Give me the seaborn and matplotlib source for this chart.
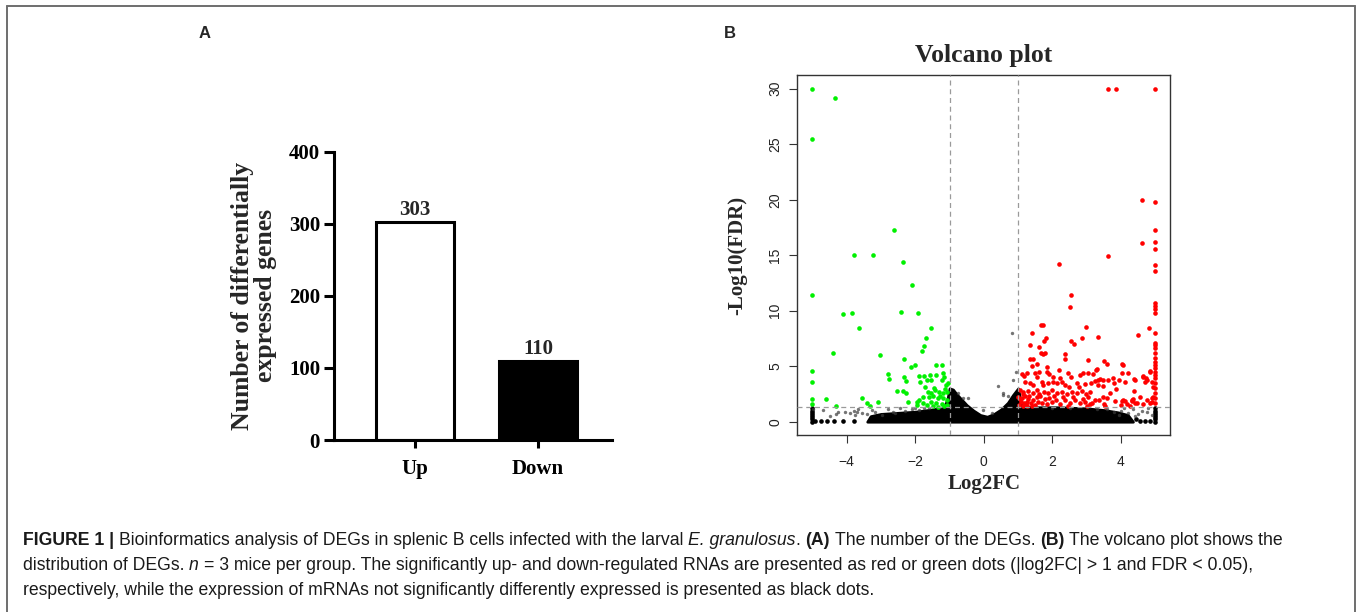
import matplotlib
matplotlib.use("Agg")
import matplotlib.pyplot as plt
import seaborn as sns
from matplotlib.lines import Line2D

SERIF = "Liberation Serif"
SANS = "Liberation Sans"
CAPTION_COLOR = "#1a1a1a"
FRAME_GREY = "#6e6e6e"

# ---- panel A data ----
categories = ["Up", "Down"]
deg_counts = [303, 110]
bar_colors = ["white", "black"]
count_ticks = [0, 100, 200, 300, 400]

# ---- panel B data ----
green_x = [-5, -4.34, -5, -5, -5, -5, -5, -5, -4.6, -4.31, -4.41, -4.12, -3.85, -3.79, -3.63,
           -3.56, -3.41, -3.32, -3.23, -3.08, -3.02, -2.62, -2.41, -2.36, -2.09, -1.91, -1.55,
           -1.68, -1.73, -1.79, -2.34, -2.12, -2.0, -1.40, -1.21, -2.78, -2.76, -2.34, -2.27,
           -1.89, -1.74, -1.57, -1.40, -1.19, -1.15, -1.05, -1.85, -1.66, -1.54, -1.23, -1.10,
           -2.54, -2.36, -2.27, -1.71, -1.64, -1.54, -1.42, -1.31, -1.20, -1.08, -1.60, -1.47,
           -1.33, -1.18, -1.08, -2.20, -1.96, -1.78, -1.88, -1.76, -1.55, -1.39, -1.23, -1.08,
           -1.96, -1.66, -1.49, -1.33, -1.15, -1.27, -1.45, -1.12]
green_y = [30, 29.2, 25.5, 11.4, 4.56, 3.57, 2.0, 1.57, 2.0, 1.44, 6.15, 9.7, 9.8, 15.0, 8.4,
           2.1, 1.65, 1.44, 15.0, 1.8, 6.0, 17.3, 9.9, 14.4, 12.3, 9.8, 8.4,
           7.5, 6.85, 6.37, 5.62, 4.9, 5.08, 5.14, 5.08, 4.3, 3.82, 4.05, 3.7,
           4.14, 4.14, 4.18, 4.2, 4.41, 4.05, 3.46, 3.6, 3.76, 3.76, 3.76, 3.3,
           2.77, 2.77, 2.56, 3.1, 2.7, 2.56, 2.86, 2.7, 2.56, 2.7, 2.25, 2.34,
           2.1, 2.16, 1.95, 1.8, 1.8, 2.25, 1.95, 1.66, 1.8, 1.66, 1.6, 1.5,
           1.5, 1.5, 1.41, 1.35, 1.45, 2.35, 3.05, 2.95]

red_x = [3.62, 3.87, 5.0, 4.62, 5.0, 5.0, 4.62, 5.0, 5.0, 5.0, 5.0,
         3.62, 2.19, 2.54, 2.51, 5.0, 5.0, 5.0, 5.0,
         4.83, 5.0, 4.51, 5.0, 5.0, 5.0,
         5.0, 5.0, 5.0, 5.0, 5.0, 5.0, 5.0, 5.0, 5.0, 5.0, 5.0, 5.0, 5.0,
         4.91, 4.86, 4.65, 4.75, 4.41, 4.34, 4.92,
         2.97, 2.54, 2.63, 2.85, 3.32,
         2.38, 2.36, 3.52, 3.58, 3.05, 4.05, 2.18, 3.27,
         1.66, 1.73, 1.41, 1.80, 1.76,
         1.35, 1.61, 1.67, 1.73, 1.78,
         1.35, 1.44, 1.40, 1.54, 1.85,
         1.27, 1.10, 1.18, 1.49, 1.56, 1.62, 1.83, 1.91, 2.01,
         2.22, 2.27, 2.46, 2.54, 2.80, 2.90, 3.05, 3.19, 3.32,
         1.2, 1.35, 1.44, 1.69, 1.73, 1.88, 2.03, 2.14, 2.37, 2.49, 2.71, 2.78, 2.95, 3.13,
         1.06, 1.15, 1.30, 1.43, 1.54, 1.62, 1.76, 1.88, 1.98, 2.13, 2.27, 2.42, 2.56, 2.71,
         2.85, 2.98, 3.1,
         1.01, 1.10, 1.20, 1.30, 1.08, 1.17, 1.27, 1.37, 1.03, 1.13, 1.25, 1.44, 1.49, 1.59,
         1.69, 1.78, 1.85, 1.98, 2.12, 2.22, 2.37, 2.51, 2.66, 2.80, 2.95, 3.10, 3.24,
         1.05, 1.15, 1.22, 1.33, 1.40, 1.55, 1.65, 1.9, 2.05, 2.3, 2.6, 2.45, 2.9, 3.0,
         4.04, 3.29, 4.02, 4.21, 4.65, 4.72, 4.85,
         3.24, 3.39, 3.48, 3.63, 3.78, 3.80, 3.95, 4.12, 4.39, 4.70,
         3.34, 3.47, 3.68, 3.85, 4.39, 4.94,
         3.48, 3.83, 4.02, 4.12, 4.31, 4.41, 4.55, 4.94, 4.9, 3.53, 4.26, 4.65, 4.85,
         3.03, 3.15, 3.35, 3.51, 3.58, 3.99, 4.07, 4.17, 4.32, 4.46, 4.75]
red_y = [30, 30, 30, 20.0, 19.8, 17.3, 16.07, 16.2, 15.6, 14.1, 13.6,
         14.95, 14.2, 11.4, 10.3, 10.66, 10.42, 10.12, 9.82,
         8.4, 8.0, 7.8, 7.1, 6.9, 6.6,
         6.15, 5.7, 5.4, 5.1, 4.8, 4.5, 4.2, 3.9, 3.45, 3.0, 2.55, 2.1, 1.65,
         3.6, 4.56, 4.05, 3.75, 3.8, 2.0, 2.1,
         8.56, 7.3, 7.0, 7.5, 7.66,
         6.07, 5.68, 5.5, 5.2, 5.56, 5.1, 4.65, 4.7,
         8.74, 8.71, 7.96, 7.5, 7.27,
         6.94, 6.76, 6.16, 6.07, 6.2,
         5.62, 5.62, 5.0, 5.2, 4.95,
         4.36, 4.3, 4.12, 4.36, 4.05, 4.5, 4.5, 4.27, 4.05,
         3.9, 3.6, 4.36, 4.0, 4.2, 4.36, 4.41, 4.3, 3.76,
         3.6, 3.51, 3.3, 3.6, 3.3, 3.46, 3.6, 3.46, 3.3, 3.15, 3.46, 3.15, 3.37, 3.51,
         2.86, 2.7, 2.79, 2.61, 2.86, 2.5, 2.7, 2.56, 2.86, 2.61, 2.7, 2.5, 2.7, 2.56,
         2.79, 2.5, 2.7,
         2.26, 2.1, 2.32, 2.0, 1.8, 1.66, 1.8, 1.66, 1.5, 1.41, 1.41, 1.95, 1.5, 1.8,
         1.66, 2.0, 1.6, 1.8, 1.95, 1.6, 1.95, 1.71, 1.95, 1.66, 1.8, 1.6, 1.95,
         2.0, 2.45, 1.55, 2.3, 1.45, 2.2, 2.3, 2.15, 2.3, 2.2, 2.25, 1.45, 2.05, 1.45,
         5.17, 4.72, 4.41, 4.41, 4.12, 3.94, 4.5,
         3.67, 3.85, 3.76, 3.76, 3.91, 3.51, 3.76, 3.55, 3.82, 3.6,
         3.3, 3.22, 2.61, 2.92, 2.79, 3.15,
         2.2, 1.89, 1.89, 1.89, 1.95, 1.71, 2.2, 2.2, 1.8, 1.41, 1.41, 1.6, 1.66,
         2.25, 1.71, 1.95, 1.59, 2.1, 1.5, 1.95, 1.59, 1.89, 1.65, 1.95]

grey_x = [0.83, 0.40, 0.55, 0.55, -0.47, 0.86, 0.94, -0.03,
          -4.97, -4.68, -4.24, -4.05, -3.9, -3.8, -3.75, -3.71, -3.66, -3.56, -3.41, -3.27,
          -3.17, -2.98, -2.64, -2.59, -2.3, -2.1, -1.9, -1.6, -4.5, -4.3, -2.8,
          3.6, 3.8, 4.0, 4.2, 4.35, 4.5, 4.6, 4.75, 4.9, 4.4, 3.95, 3.3, 2.5, 2.0, 4.1, 4.8,
          -2.45, -2.0, -1.75, -1.35, -0.75, -0.6, 0.25, 0.7]
grey_y = [7.96, 3.2, 2.6, 2.4, 2.16, 3.75, 4.5, 1.05,
          1.12, 1.05, 0.9, 0.9, 0.81, 0.96, 0.6, 0.85, 1.12, 0.75, 0.66, 1.05,
          0.85, 0.6, 0.9, 0.75, 1.0, 1.15, 1.05, 1.2, 0.5, 0.7, 1.1,
          1.1, 0.9, 1.0, 0.8, 1.1, 0.7, 1.0, 0.9, 0.6, 0.5, 0.6, 1.15, 1.25, 1.25, 1.2, 1.2,
          1.2, 1.25, 1.2, 1.3, 2.6, 2.1, 0.8, 2.3]

# isolated black points: bottom blobs and the capped columns at |log2FC| = 5
black_x = [-4.92, -4.75, -4.58, -4.36, -4.10, -3.78, 4.55, 4.7, 4.85, 4.45,
           -5, -5, -5, -5, -5, -5, -5, 5, 5, 5, 5, 5, 5, 5]
black_y = [0.1, 0.1, 0.1, 0.1, 0.1, 0.1, 0.1, 0.1, 0.1, 0.25,
           0, 0.2, 0.4, 0.6, 0.8, 1.0, 1.2, 0, 0.2, 0.4, 0.6, 0.8, 1.0, 1.2]

# upper edge of the dense black cloud of non-significant genes
cloud_x = [-3.4, -3.3, -3.0, -2.5, -2.0, -1.5, -1.15, -1.05, -1.0, -0.9, -0.8, -0.65, -0.5,
           -0.3, -0.1, 0.1, 0.3, 0.5, 0.7, 0.85, 1.0, 1.1, 1.5, 2.2, 3.0, 3.5, 3.9, 4.2, 4.35]
cloud_top = [0.0, 0.5, 0.7, 0.8, 0.9, 1.1, 1.3, 2.2, 3.0, 2.9, 2.5, 2.0, 1.5,
             1.0, 0.6, 0.45, 0.7, 1.1, 1.7, 2.4, 3.0, 1.35, 1.3, 1.3, 1.2, 1.05, 0.85, 0.6, 0.0]

fc_cut = [-1, 1]
fdr_cut = 1.3
fc_ticks = [-4, -2, 0, 2, 4]
fdr_ticks = [0, 5, 10, 15, 20, 25, 30]

sns.set_style("ticks")
plt.rcParams["font.family"] = [SANS, "DejaVu Sans"]

fig = plt.figure(figsize=(13.58, 6.12), dpi=100)

# ---------------- Panel A ----------------
axA = fig.add_axes([0.2459, 0.2810, 0.2047, 0.4711])
sns.barplot(x=categories, y=deg_counts, hue=categories, palette=bar_colors,
            legend=False, edgecolor="black", linewidth=2.2, width=0.63,
            saturation=1, ax=axA)
axA.set_xlim(-0.66, 1.6)
axA.set_ylim(0, 400)
axA.set_yticks(count_ticks)
sns.despine(ax=axA)
for side in ["left", "bottom"]:
    axA.spines[side].set_linewidth(2.2)
    axA.spines[side].set_color("black")
axA.tick_params(axis="y", length=7, width=2.2, pad=3, colors="black")
axA.tick_params(axis="x", length=6, width=2.2, pad=8, colors="black")
plt.setp(axA.get_yticklabels() + axA.get_xticklabels(),
         fontfamily=SERIF, fontweight="bold", fontsize=15)
for i, v in enumerate(deg_counts):
    axA.text(i, v + 9.5, str(v), ha="center", va="baseline",
             fontfamily=SERIF, fontweight="bold", fontsize=15)
axA.set_xlabel("")
axA.set_ylabel("Number of differentially\nexpressed genes", fontfamily=SERIF,
               fontweight="bold", fontsize=18.5, linespacing=1.0)
axA.yaxis.set_label_coords(-0.204, 0.5)

# ---------------- Panel B ----------------
axB = fig.add_axes([0.5871, 0.2892, 0.2747, 0.5876])
axB.fill_between(cloud_x, 0, cloud_top, color="black", linewidth=2.0,
                 edgecolor="black", zorder=2)
sns.scatterplot(x=black_x, y=black_y, color="black", s=11, linewidth=0, ax=axB, zorder=3)
sns.scatterplot(x=grey_x, y=grey_y, color="#3a3a3a", s=6, linewidth=0, alpha=0.7,
                ax=axB, zorder=3)
sns.scatterplot(x=green_x, y=green_y, color="#00f000", s=11, linewidth=0, ax=axB, zorder=4)
sns.scatterplot(x=red_x, y=red_y, color="#ff0000", s=11, linewidth=0, ax=axB, zorder=4)
for c in fc_cut:
    axB.axvline(c, color="#9a9a9a", lw=0.9, ls=(0, (4, 3)), zorder=5)
axB.axhline(fdr_cut, color="#9a9a9a", lw=0.9, ls=(0, (4, 3)), zorder=5)

axB.set_xlim(-5.44, 5.44)
axB.set_ylim(-1.2, 31.2)
axB.set_xticks(fc_ticks)
axB.set_yticks(fdr_ticks)
for side in axB.spines.values():
    side.set_linewidth(1.0)
    side.set_color("#333333")
axB.tick_params(axis="both", length=6, width=0.8, colors="#333333", labelsize=10,
                labelcolor="#222222")
axB.tick_params(axis="x", pad=8.5)
axB.tick_params(axis="y", pad=5, labelrotation=90)
plt.setp(axB.get_yticklabels(), va="center")
axB.set_title("Volcano plot", fontfamily=SERIF, fontweight="bold", fontsize=18.5, pad=10)
axB.set_xlabel("Log2FC", fontfamily=SERIF, fontweight="bold", fontsize=15)
axB.set_ylabel("-Log10(FDR)", fontfamily=SERIF, fontweight="bold", fontsize=15)
axB.xaxis.set_label_coords(0.5, -0.108)
axB.yaxis.set_label_coords(-0.134, 0.5)

# panel letters
fig.text(0.151, 0.946, "A", fontsize=12, fontweight="bold", ha="center", va="center")
fig.text(0.5376, 0.946, "B", fontsize=12, fontweight="bold", ha="center", va="center")

# ---------------- caption ----------------
CAP_SIZE = 12.7
renderer = fig.canvas.get_renderer()


def text_width(s, **kw):
    t = fig.text(0, 0, s, fontsize=CAP_SIZE, family=SANS, **kw)
    w = t.get_window_extent(renderer=renderer).width
    t.remove()
    return w


space_w = (text_width("a a") - text_width("aa")) / fig.bbox.width


def put_line(y, runs):
    x = 0.0167
    for txt, weight, style, gap in runs:
        t = fig.text(x, y, txt, fontsize=CAP_SIZE, family=SANS, fontweight=weight,
                     fontstyle=style, color=CAPTION_COLOR, ha="left", va="baseline")
        bb = t.get_window_extent(renderer=renderer)
        x = bb.x1 / fig.bbox.width + (space_w if gap else 0)


put_line(1 - 545 / 612, [
    ("FIGURE 1 |", "bold", "normal", True),
    ("Bioinformatics analysis of DEGs in splenic B cells infected with the larval",
     "normal", "normal", True),
    ("E. granulosus", "normal", "italic", False),
    (".", "normal", "normal", True),
    ("(A)", "bold", "normal", True),
    ("The number of the DEGs.", "normal", "normal", True),
    ("(B)", "bold", "normal", True),
    ("The volcano plot shows the", "normal", "normal", False),
])
put_line(1 - 570 / 612, [
    ("distribution of DEGs.", "normal", "normal", True),
    ("n", "normal", "italic", True),
    ("= 3 mice per group. The significantly up- and down-regulated RNAs are presented "
     "as red or green dots (|log2FC| > 1 and FDR < 0.05),", "normal", "normal", False),
])
put_line(1 - 595 / 612, [
    ("respectively, while the expression of mRNAs not significantly differently "
     "expressed is presented as black dots.", "normal", "normal", False),
])

# figure frame (left, top, right)
for xs, ys in [([0.0054, 0.0054], [0.0, 0.9894]),
               ([0.0054, 0.9978], [0.9894, 0.9894]),
               ([0.9978, 0.9978], [0.0, 0.9894])]:
    fig.add_artist(Line2D(xs, ys, transform=fig.transFigure, color=FRAME_GREY, lw=1.4))

fig.savefig("out.png", dpi=100, facecolor="white")
